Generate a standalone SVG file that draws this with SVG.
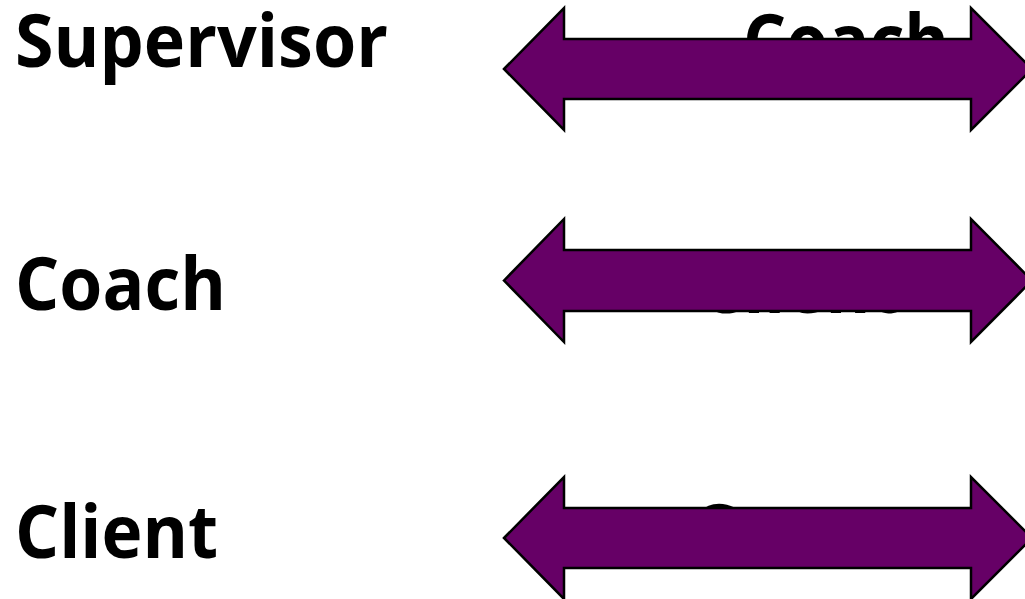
<svg xmlns="http://www.w3.org/2000/svg" width="1025" height="599" viewBox="0 0 1025 599">
<style>
.lbl{font-family:"Open Sans","Noto Sans","DejaVu Sans",sans-serif;font-weight:bold;font-size:74px;fill:#000}
.arr{fill:#660066;stroke:#000;stroke-width:2.5;stroke-linejoin:miter}
</style>
<rect width="1025" height="599" fill="#fff"/>
<g id="node-supervisor"><text class="lbl" x="15" y="67" textLength="373" lengthAdjust="spacingAndGlyphs">Supervisor</text></g>
<g id="node-coach"><text class="lbl" x="15" y="310" textLength="211" lengthAdjust="spacingAndGlyphs">Coach</text></g>
<g id="node-client"><text class="lbl" x="15" y="558" textLength="203" lengthAdjust="spacingAndGlyphs">Client</text></g>
<g id="node-coach-right"><text class="lbl" x="743" y="67" textLength="206" lengthAdjust="spacingAndGlyphs">Coach</text></g>
<g id="node-client-right"><text class="lbl" x="700" y="312.5" textLength="200" lengthAdjust="spacingAndGlyphs">Client</text></g>
<g id="node-c-right"><text class="lbl" x="690" y="557">C</text></g>
<g id="connectors">
<polygon class="arr" points="504,69 564,8 564,39 971,39 971,8 1032,69 971,130 971,99 564,99 564,130"/>
<polygon class="arr" points="504,280.5 564,219 564,250 971,250 971,219 1032,280.5 971,342 971,311 564,311 564,342"/>
<polygon class="arr" points="504,538 564,477 564,508 971,508 971,477 1032,538 971,599 971,568 564,568 564,599"/>
</g>
</svg>
